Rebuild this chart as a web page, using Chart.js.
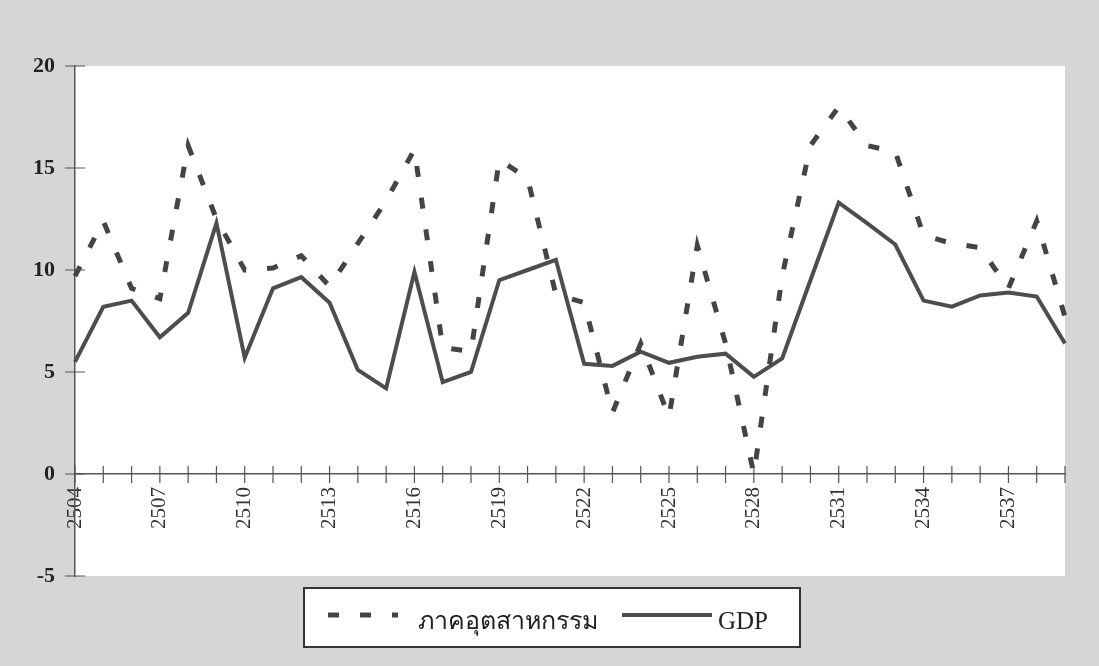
<!DOCTYPE html>
<html>
<head>
<meta charset="utf-8">
<script src="https://cdn.jsdelivr.net/npm/chart.js@4/dist/chart.umd.min.js"></script>
<style>
  html, body { margin: 0; padding: 0; background: #d6d6d6; }
  #wrap { width: 1099px; height: 666px; }
</style>
</head>
<body>
<div id="wrap"><canvas id="chart" width="1099" height="666"></canvas></div>
<script>
// Data

const years = ["2504", "2505", "2506", "2507", "2508", "2509", "2510", "2511", "2512",
    "2513", "2514", "2515", "2516", "2517", "2518", "2519", "2520", "2521", "2522",
    "2523", "2524", "2525", "2526", "2527", "2528", "2529", "2530", "2531", "2532",
    "2533", "2534", "2535", "2536", "2537", "2538", "2539"];

const industry = [9.7, 12.4, 9.1, 8.6, 16.1, 12.5, 10.0, 10.1, 10.7, 9.2, 11.3, 13.4,
    15.9, 6.2, 6.0, 15.4, 14.5, 8.8, 8.4, 3.0, 6.4, 2.8, 11.2, 6.4,
    0.0, 9.7, 16.1, 18.0, 16.1, 15.8, 11.7, 11.3, 11.1, 9.1, 12.4, 7.7];

const gdp = [5.5, 8.2, 8.5, 6.7, 7.9, 12.3, 5.7, 9.1, 9.65, 8.4, 5.1, 4.2,
    9.9, 4.5, 5.0, 9.5, 10.0, 10.5, 5.4, 5.3, 6.0, 5.45, 5.75, 5.9,
    4.76, 5.66, 9.5, 13.3, 12.3, 11.25, 8.5, 8.2, 8.75, 8.9, 8.7, 6.4];

const xTickLabels = ["2504", "2507", "2510", "2513", "2516", "2519", "2522", "2525",
    "2528", "2531", "2534", "2537"];

const yTicks = [-5, 0, 5, 10, 15, 20];

const serif = "'Liberation Serif', 'Times New Roman', serif";

// white plot area
const plotBg = {
    id: "plotBg",
    beforeDraw(chart) {
        const { ctx, chartArea: a } = chart;
        ctx.save();
        ctx.fillStyle = "#ffffff";
        ctx.fillRect(a.left, a.top, a.right - a.left, a.bottom - a.top);
        ctx.restore();
    }
};

// tick marks that cross the axis lines
const crossTicks = {
    id: "crossTicks",
    beforeDatasetsDraw(chart) {
        const { ctx, scales } = chart;
        const x = scales.x, y = scales.y;
        const y0 = y.getPixelForValue(0);
        ctx.save();
        ctx.strokeStyle = "#555";
        ctx.lineWidth = 1.2;
        ctx.beginPath();
        years.forEach((yr, i) => {
            const px = x.getPixelForTick(i);
            ctx.moveTo(px, y0 - 8);
            ctx.lineTo(px, y0 + 9);
        });
        yTicks.forEach(v => {
            const py = y.getPixelForValue(v);
            ctx.moveTo(y.right - 10, py);
            ctx.lineTo(y.right + 10, py);
        });
        ctx.stroke();
        ctx.restore();
    }
};

// boxed legend under the plot
const boxLegend = {
    id: "boxLegend",
    afterDraw(chart) {
        const { ctx } = chart;
        const ds = chart.data.datasets;
        const box = { x: 304, y: 588, w: 496, h: 59 };
        ctx.save();
        ctx.fillStyle = "#ffffff";
        ctx.fillRect(box.x, box.y, box.w, box.h);
        ctx.strokeStyle = "#333";
        ctx.lineWidth = 2;
        ctx.strokeRect(box.x, box.y, box.w, box.h);

        const lineY = 615;
        const items = [
            { x0: 328, x1: 398, tx: 418 },
            { x0: 622, x1: 712, tx: 718 }
        ];
        ctx.font = "25px " + serif;
        ctx.textBaseline = "middle";
        ctx.fillStyle = "#222";
        ds.forEach((d, i) => {
            const it = items[i];
            ctx.beginPath();
            ctx.strokeStyle = d.borderColor;
            ctx.lineWidth = d.borderWidth;
            ctx.setLineDash(d.borderDash || []);
            ctx.moveTo(it.x0, lineY);
            ctx.lineTo(it.x1, lineY);
            ctx.stroke();
            ctx.setLineDash([]);
            ctx.fillText(d.label, it.tx, 622);
        });
        ctx.restore();
    }
};

const chart = document.querySelector("#chart").getContext("2d");

new Chart(chart, {
    type: "line",
    data: {
        labels: years,
        datasets: [
            {
                label: "ภาคอุตสาหกรรม",
                data: industry,
                borderColor: "#444",
                borderWidth: 5,
                borderDash: [11, 21],
                pointRadius: 0,
                tension: 0,
                fill: false
            },
            {
                label: "GDP",
                data: gdp,
                borderColor: "#4d4d4d",
                borderWidth: 4,
                pointRadius: 0,
                tension: 0,
                fill: false
            }
        ]
    },
    options: {
        responsive: false,
        animation: false,
        layout: { padding: { left: 0, right: 34, top: 66, bottom: 90 } },
        plugins: {
            legend: { display: false },
            tooltip: { enabled: false }
        },
        scales: {
            x: {
                position: { y: 0 },
                offset: false,
                grid: { drawOnChartArea: false, color: "transparent", tickLength: 8 },
                border: { display: true, color: "#555", width: 1.5 },
                ticks: {
                    autoSkip: false,
                    minRotation: 90,
                    maxRotation: 90,
                    padding: 5,
                    color: "#333",
                    font: { family: serif, size: 21 },
                    callback: function (val, i) {
                        const l = years[i];
                        return xTickLabels.includes(l) ? l : "";
                    }
                }
            },
            y: {
                min: -5,
                max: 20,
                afterFit: s => { s.width = 75; },
                grid: { drawOnChartArea: false, color: "transparent", tickLength: 10 },
                border: { display: true, color: "#555", width: 1.5 },
                ticks: {
                    stepSize: 5,
                    padding: 10,
                    color: "#222",
                    font: { family: serif, size: 22, weight: "bold" }
                }
            }
        }
    },
    plugins: [plotBg, crossTicks, boxLegend]
});
</script>
</body>
</html>
